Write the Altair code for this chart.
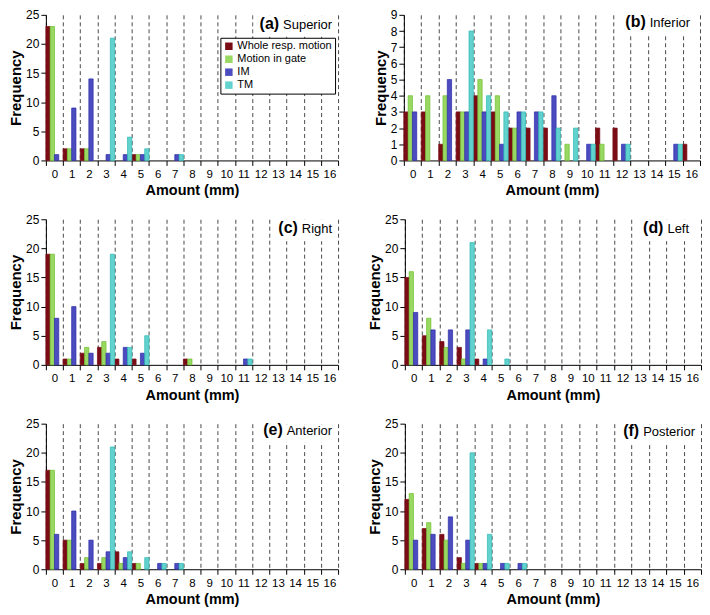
import altair as alt
import pandas as pd

amounts = list(range(17))
series = ["Whole resp. motion", "Motion in gate", "IM", "TM"]

# (a) Superior
sup_whole = [23, 2, 2, 0, 0, 1, 0, 0, 0, 0, 0, 0, 0, 0, 0, 0, 0]
sup_gate = [23, 2, 2, 0, 0, 1, 0, 0, 0, 0, 0, 0, 0, 0, 0, 0, 0]
sup_im = [1, 9, 14, 1, 1, 1, 0, 1, 0, 0, 0, 0, 0, 0, 0, 0, 0]
sup_tm = [0, 0, 0, 21, 4, 2, 0, 1, 0, 0, 0, 0, 0, 0, 0, 0, 0]
# (b) Inferior
inf_whole = [3, 3, 1, 3, 4, 3, 2, 2, 2, 0, 0, 2, 2, 0, 0, 0, 1]
inf_gate = [4, 4, 4, 3, 5, 4, 2, 0, 0, 1, 0, 1, 0, 0, 0, 0, 0]
inf_im = [3, 0, 5, 3, 3, 1, 3, 3, 4, 0, 1, 0, 1, 0, 0, 1, 0]
inf_tm = [0, 0, 0, 8, 4, 3, 3, 3, 2, 2, 1, 0, 1, 0, 0, 1, 0]
# (c) Right
rig_whole = [19, 1, 2, 3, 1, 1, 0, 0, 1, 0, 0, 0, 0, 0, 0, 0, 0]
rig_gate = [19, 1, 3, 4, 0, 0, 0, 0, 1, 0, 0, 0, 0, 0, 0, 0, 0]
rig_im = [8, 10, 2, 2, 3, 2, 0, 0, 0, 0, 0, 1, 0, 0, 0, 0, 0]
rig_tm = [0, 0, 0, 19, 3, 5, 0, 0, 0, 0, 0, 1, 0, 0, 0, 0, 0]
# (d) Left
lef_whole = [15, 5, 4, 3, 1, 0, 0, 0, 0, 0, 0, 0, 0, 0, 0, 0, 0]
lef_gate = [16, 8, 3, 1, 0, 0, 0, 0, 0, 0, 0, 0, 0, 0, 0, 0, 0]
lef_im = [9, 6, 6, 6, 1, 0, 0, 0, 0, 0, 0, 0, 0, 0, 0, 0, 0]
lef_tm = [0, 0, 0, 21, 6, 1, 0, 0, 0, 0, 0, 0, 0, 0, 0, 0, 0]
# (e) Anterior
ant_whole = [17, 5, 1, 1, 3, 1, 0, 0, 0, 0, 0, 0, 0, 0, 0, 0, 0]
ant_gate = [17, 5, 2, 2, 1, 1, 0, 0, 0, 0, 0, 0, 0, 0, 0, 0, 0]
ant_im = [6, 10, 5, 3, 2, 0, 1, 1, 0, 0, 0, 0, 0, 0, 0, 0, 0]
ant_tm = [0, 0, 0, 21, 3, 2, 1, 1, 0, 0, 0, 0, 0, 0, 0, 0, 0]
# (f) Posterior
pos_whole = [12, 7, 6, 2, 1, 0, 0, 0, 0, 0, 0, 0, 0, 0, 0, 0, 0]
pos_gate = [13, 8, 5, 1, 1, 0, 0, 0, 0, 0, 0, 0, 0, 0, 0, 0, 0]
pos_im = [5, 6, 9, 5, 1, 1, 1, 0, 0, 0, 0, 0, 0, 0, 0, 0, 0]
pos_tm = [0, 0, 0, 20, 6, 1, 1, 0, 0, 0, 0, 0, 0, 0, 0, 0, 0]

panel_letters = ["(a)", "(b)", "(c)", "(d)", "(e)", "(f)"]
panel_names = ["Superior", "Inferior", "Right", "Left", "Anterior", "Posterior"]

fills = ["#7a0c16", "#9ad864", "#4c4cc0", "#62d2ce"]
strokes = ["#7a0c16", "#6cc02a", "#2a2aa8", "#2bb8b4"]

FONT = "Liberation Sans, Arial, Helvetica, sans-serif"
W_LEFT, W_RIGHT, H = 293, 297, 146

REG = {" ": 278, "A": 667, "I": 278, "L": 556, "P": 667, "R": 722, "S": 667,
       "a": 556, "e": 556, "f": 278, "g": 556, "h": 556, "i": 222, "n": 556,
       "o": 556, "p": 556, "r": 333, "s": 500, "t": 278, "u": 556}
BOLD = {"(": 333, ")": 333, "a": 556, "b": 611, "c": 556, "d": 611, "e": 556, "f": 333}


def text_w(s, table, size):
    return sum(table.get(ch, 556) for ch in s) * size / 1000.0


NAME_SIZE, LET_SIZE = 13, 16
title_base = [14, 12, 14, 14, 11, 12]
title_gap = [6, 10, 6, 12, 6, 6]


def panel(idx, whole, gate, im, tm, ymax, ystep, width, show_legend):
    rows = []
    for s, vals in zip(series, [whole, gate, im, tm]):
        for a, v in zip(amounts, vals):
            rows.append({"amount": a, "series": s, "value": v})
    df = pd.DataFrame(rows)

    if show_legend:
        legend = alt.Legend(
            orient="none", legendX=175, legendY=23, title=None,
            symbolType="square", symbolSize=56, symbolStrokeWidth=0,
            strokeColor="black", fillColor="white", padding=3,
            labelFont=FONT, labelFontSize=11, labelColor="black",
            rowPadding=1, labelLimit=200, labelOffset=3,
        )
    else:
        legend = None

    bars = alt.Chart(df).transform_filter("datum.value > 0").mark_bar(strokeWidth=0.7).encode(
        x=alt.X(
            "amount:O",
            scale=alt.Scale(domain=amounts, paddingInner=0, paddingOuter=0),
            axis=alt.Axis(
                title="Amount (mm)", labelAngle=0, tickBand="extent",
                grid=True, gridDash=[4, 3], gridColor="#4a4a4a", gridWidth=1,
                domainColor="black", tickColor="black", tickSize=5,
                labelFont=FONT, labelFontSize=11.5, labelColor="black", labelPadding=3,
                titleFont=FONT, titleFontSize=14.5, titleFontWeight="bold",
                titleColor="black", titlePadding=4,
            ),
        ),
        xOffset=alt.XOffset(
            "series:N", scale=alt.Scale(domain=series, paddingInner=0, paddingOuter=0)
        ),
        y=alt.Y(
            "value:Q",
            scale=alt.Scale(domain=[0, ymax], nice=False),
            axis=alt.Axis(
                title="Frequency", values=list(range(0, ymax + 1, ystep)), grid=False,
                domainColor="black", tickColor="black", tickSize=5,
                labelFont=FONT, labelFontSize=12, labelColor="black", labelPadding=2,
                titleFont=FONT, titleFontSize=15, titleFontWeight="bold",
                titleColor="black", titlePadding=2,
            ),
        ),
        color=alt.Color("series:N", scale=alt.Scale(domain=series, range=fills), legend=legend),
        stroke=alt.Stroke("series:N", scale=alt.Scale(domain=series, range=strokes), legend=None),
    )

    letter = panel_letters[idx]
    name = panel_names[idx]
    right = width - title_gap[idx]
    name_w = text_w(name, REG, NAME_SIZE)
    let_w = text_w(letter, BOLD, LET_SIZE)
    let_right = right - name_w - 4
    box_left = let_right - let_w - 6
    yb = title_base[idx]

    tdf = pd.DataFrame({"letter": [letter], "name": [name]})
    box = alt.Chart(tdf).mark_rect(color="white").encode(
        x=alt.value(box_left), x2=alt.value(width - 0.5), y=alt.value(0.5), y2=alt.value(yb + 8)
    )
    t_name = alt.Chart(tdf).mark_text(
        align="right", baseline="alphabetic", font=FONT, fontSize=NAME_SIZE, color="black"
    ).encode(text="name:N", x=alt.value(right), y=alt.value(yb))
    t_let = alt.Chart(tdf).mark_text(
        align="right", baseline="alphabetic", font=FONT, fontSize=LET_SIZE,
        fontWeight="bold", color="black"
    ).encode(text="letter:N", x=alt.value(let_right), y=alt.value(yb))

    return alt.layer(bars, box, t_name, t_let).properties(width=width, height=H)


pa = panel(0, sup_whole, sup_gate, sup_im, sup_tm, 25, 5, W_LEFT, True)
pb = panel(1, inf_whole, inf_gate, inf_im, inf_tm, 9, 1, W_RIGHT, False)
pc = panel(2, rig_whole, rig_gate, rig_im, rig_tm, 25, 5, W_LEFT, False)
pd_ = panel(3, lef_whole, lef_gate, lef_im, lef_tm, 25, 5, W_RIGHT, False)
pe = panel(4, ant_whole, ant_gate, ant_im, ant_tm, 25, 5, W_LEFT, False)
pf = panel(5, pos_whole, pos_gate, pos_im, pos_tm, 25, 5, W_RIGHT, False)


def row(left, right, gap):
    return alt.hconcat(left, right, spacing=gap).resolve_legend(
        color="independent", stroke="independent"
    )


chart = alt.vconcat(row(pa, pb, 34), row(pc, pd_, 28), row(pe, pf, 28), spacing=16).resolve_legend(
    color="independent", stroke="independent"
).configure(padding=0, background="white").configure_view(stroke=None)

chart.save("out.html", embed_options={"renderer": "svg", "actions": False})
